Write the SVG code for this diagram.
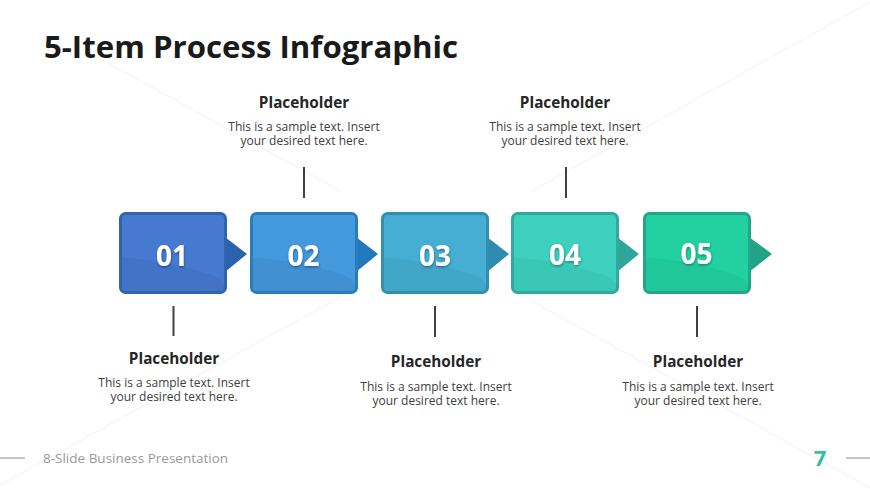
<svg xmlns="http://www.w3.org/2000/svg" width="870" height="489" viewBox="0 0 870 489">
<defs>
<filter id="ts" x="-20%" y="-20%" width="140%" height="150%"><feDropShadow dx="0.5" dy="1.5" stdDeviation="1" flood-color="#000" flood-opacity="0.35"/></filter>
<path id="shine" d="M0 43 Q50 48 88 60 Q100 64 103 72 L103 74 Q103 77 98 77 L5 77 Q0 77 0 72 Z" fill="#000" fill-opacity="0.045"/>
</defs>
<style>
text{font-family:"Open Sans","Noto Sans","Liberation Sans",sans-serif}
.t{font-size:31.200px;font-weight:700;fill:#1a1a1a}
.h{font-size:15.300px;font-weight:700;fill:#262626;text-anchor:middle}
.b{font-size:12px;fill:#404040;text-anchor:middle}
.n{font-size:28px;font-weight:700;fill:#fff;text-anchor:middle;filter:url(#ts)}
.c{stroke:#404040;stroke-width:2;fill:none}
.bg{stroke:#f0f0f0;stroke-width:1;fill:none}
.f{stroke:#b3b3b3;stroke-width:1.5;fill:none}
</style>
<rect width="870" height="489" fill="#fff"/>
<g id="background">
<path class="bg" d="M0 485L342 296M108 63L342 192M530 192L870 2M530 300L870 488"/>
</g>
<text class="t" x="44" y="58">5-Item Process Infographic</text>
<g id="connectors">
<path class="c" d="M173.500 306V336M304 167V198M435 306V337M566 167V198M697 306V337"/>
</g>
<g id="node1">
<path d="M225 237L247 254L225 272Z" fill="#2a62ae"/>
<rect x="120.500" y="213.500" width="105" height="79" rx="5" fill="#4679d0" stroke="#2e65ad" stroke-width="3"/>
<use href="#shine" x="122" y="214"/>
<text class="n" x="172" y="266">01</text>
</g>
<g id="node2">
<path d="M356 237L378 254L356 272Z" fill="#2278bd"/>
<rect x="251.500" y="213.500" width="105" height="79" rx="5" fill="#4498dc" stroke="#2a7cbb" stroke-width="3"/>
<use href="#shine" x="253" y="214"/>
<text class="n" x="303.500" y="266">02</text>
</g>
<g id="node3">
<path d="M487 237L509 254L487 272Z" fill="#2b8bb0"/>
<rect x="382.500" y="213.500" width="105" height="79" rx="5" fill="#46aed2" stroke="#338fae" stroke-width="3"/>
<use href="#shine" x="384" y="214"/>
<text class="n" x="435" y="266">03</text>
</g>
<g id="node4">
<path d="M617 237L639 254L617 272Z" fill="#2ea69a"/>
<rect x="512.500" y="213.500" width="105" height="79" rx="5" fill="#3dd0be" stroke="#31a99c" stroke-width="3"/>
<use href="#shine" x="514" y="214"/>
<text class="n" x="565" y="265">04</text>
</g>
<g id="node5">
<path d="M749 237L772 254L749 272Z" fill="#22a286"/>
<rect x="644.500" y="213.500" width="105" height="79" rx="5" fill="#22d0a0" stroke="#25a68a" stroke-width="3"/>
<use href="#shine" x="646" y="214"/>
<text class="n" x="696.500" y="264">05</text>
</g>
<g id="label1">
<text class="h" x="174" y="364">Placeholder</text>
<text class="b" x="174" y="387">This is a sample text. Insert</text>
<text class="b" x="174" y="401">your desired text here.</text>
</g>
<g id="label2">
<text class="h" x="304" y="108">Placeholder</text>
<text class="b" x="304" y="131">This is a sample text. Insert</text>
<text class="b" x="304" y="145">your desired text here.</text>
</g>
<g id="label3">
<text class="h" x="436" y="367">Placeholder</text>
<text class="b" x="436" y="391">This is a sample text. Insert</text>
<text class="b" x="436" y="405">your desired text here.</text>
</g>
<g id="label4">
<text class="h" x="565" y="108">Placeholder</text>
<text class="b" x="565" y="131">This is a sample text. Insert</text>
<text class="b" x="565" y="145">your desired text here.</text>
</g>
<g id="label5">
<text class="h" x="698" y="367">Placeholder</text>
<text class="b" x="698" y="391">This is a sample text. Insert</text>
<text class="b" x="698" y="405">your desired text here.</text>
</g>
<g id="footer">
<path class="f" d="M0 458H25M846 458H870"/>
<text x="43" y="463" font-size="13.500" fill="#9a9a9a">8-Slide Business Presentation</text>
<text x="820" y="466" font-size="22" font-weight="700" fill="#2fc19c" text-anchor="middle">7</text>
</g>
</svg>
